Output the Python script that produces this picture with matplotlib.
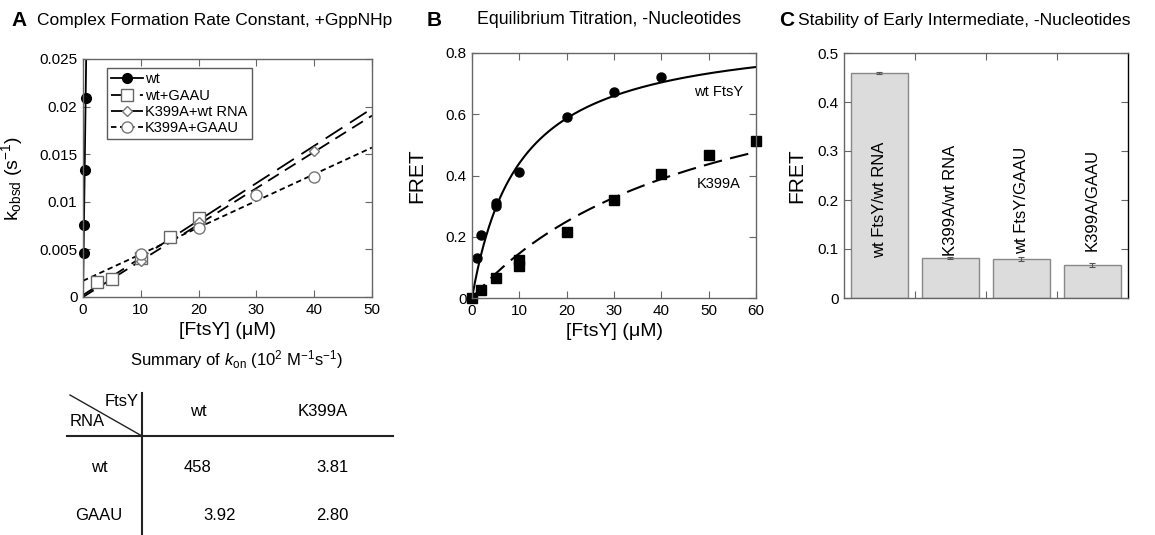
import numpy as np
import matplotlib
matplotlib.use('Agg')
import matplotlib.pyplot as plt
from matplotlib.lines import Line2D

plt.rcParams['font.family'] = ['Liberation Sans', 'DejaVu Sans']
plt.rcParams['mathtext.fontset'] = 'custom'
plt.rcParams['mathtext.rm'] = 'Liberation Sans'
plt.rcParams['mathtext.it'] = 'Liberation Sans:italic'
plt.rcParams['mathtext.bf'] = 'Liberation Sans:bold'

# ---- panel A data: kobsd vs [FtsY] (uM) ----
wt_x = [0.1, 0.166, 0.29, 0.456]
wt_y = [0.0046, 0.0076, 0.0133, 0.0209]
wtG_x = [2.5, 5, 10, 15, 20]
wtG_y = [0.0016, 0.0019, 0.0041, 0.0063, 0.0083]
kw_x = [10, 20, 40]
kw_y = [0.0038, 0.0079, 0.0153]
kG_x = [10, 20, 30, 40]
kG_y = [0.0045, 0.0072, 0.0107, 0.0126]
# linear fits: slope (uM^-1 s^-1), intercept (s^-1)
fit_wt = (0.0458, 0.0)
fit_wtG = (0.000392, 0.0002)
fit_kw = (0.000381, 0.0)
fit_kG = (0.000280, 0.0017)

# summary table (10^2 M^-1 s^-1)
tbl_cols = ['wt', 'K399A']
tbl_rows = ['wt', 'GAAU']
tbl_vals = [['458', '3.81'], ['3.92', '2.80']]

# ---- panel B data: FRET titration ----
bw_x = [0, 1, 2, 5, 5, 10, 20, 30, 40]
bw_y = [0, 0.13, 0.205, 0.30, 0.31, 0.413, 0.59, 0.672, 0.722]
bk_x = [0, 2, 5, 10, 10, 20, 30, 40, 50, 60]
bk_y = [0, 0.025, 0.065, 0.105, 0.125, 0.215, 0.32, 0.405, 0.468, 0.512]
# hyperbolic fits: Fmax, Kd (uM)
hyp_wt = (0.88, 10.0)
hyp_k = (0.874, 50.0)

# ---- panel C data ----
c_labels = ['wt FtsY/wt RNA', 'K399A/wt RNA', 'wt FtsY/GAAU', 'K399A/GAAU']
c_vals = [0.460, 0.082, 0.079, 0.067]
c_errs = [0.002, 0.002, 0.004, 0.004]

W, H = 1155, 535
fig = plt.figure(figsize=(W / 100, H / 100), dpi=100)


def px_axes(l, t, r, b):
    return fig.add_axes([l / W, (H - b) / H, (r - l) / W, (b - t) / H])


def style(ax):
    for s in ax.spines.values():
        s.set_color('#666666')
        s.set_linewidth(1.0)
    ax.tick_params(direction='in', top=True, right=True, length=5,
                   color='#666666', labelsize=11, pad=4)


MU = '\u03bc'

# ---------------- panel A ----------------
axA = px_axes(83, 59, 372, 297)
style(axA)
xx = np.linspace(0, 50, 200)
xw = np.linspace(0, 0.6, 20)
axA.plot(xw, fit_wt[0] * xw + fit_wt[1], color='black', lw=1.3)
axA.plot(xx, fit_wtG[0] * xx + fit_wtG[1], color='black', lw=1.3, dashes=(11, 5))
axA.plot(xx, fit_kw[0] * xx + fit_kw[1], color='black', lw=1.3, dashes=(7, 4))
axA.plot(xx, fit_kG[0] * xx + fit_kG[1], color='black', lw=1.3, dashes=(3, 2))
axA.plot(wt_x, wt_y, 'o', color='black', ms=7, clip_on=False)
axA.plot(wtG_x, wtG_y, 's', mfc='white', mec='#666666', ms=8)
axA.plot(kw_x, kw_y, 'D', mfc='white', mec='#777777', ms=5)
axA.plot(kG_x, kG_y, 'o', mfc='white', mec='#777777', ms=8)
axA.set_xlim(0, 50)
axA.set_ylim(0, 0.025)
axA.set_xticks([0, 10, 20, 30, 40, 50])
axA.set_yticks([0, 0.005, 0.01, 0.015, 0.02, 0.025])
axA.set_yticklabels(['0', '0.005', '0.01', '0.015', '0.02', '0.025'])
axA.set_xlabel('[FtsY] (' + MU + 'M)', fontsize=14, labelpad=4)
axA.set_ylabel('k$_{\\mathrm{obsd}}$ (s$^{-1}$)', fontsize=14)
axA.yaxis.set_label_coords(-0.2, 0.5)
handles = [
    Line2D([], [], color='black', lw=1.3, marker='o', ms=7),
    Line2D([], [], color='black', lw=1.3, dashes=(11, 5), marker='s', mfc='white', mec='#666666', ms=8),
    Line2D([], [], color='black', lw=1.3, dashes=(7, 4), marker='D', mfc='white', mec='#777777', ms=5),
    Line2D([], [], color='black', lw=1.3, dashes=(3, 2), marker='o', mfc='white', mec='#777777', ms=8),
]
leg = axA.legend(handles, ['wt', 'wt+GAAU', 'K399A+wt RNA', 'K399A+GAAU'],
                 loc='upper left', bbox_to_anchor=(0.083, 0.962), fontsize=10.5,
                 frameon=True, fancybox=False, handlelength=2.2, handletextpad=0.1,
                 borderpad=0.3, labelspacing=0.15, borderaxespad=0)
leg.get_frame().set_edgecolor('#333333')
leg.get_frame().set_linewidth(1.0)

# ---------------- panel B ----------------
axB = px_axes(472, 53, 756, 298)
style(axB)
xb = np.linspace(0, 60, 300)
axB.plot(xb, hyp_wt[0] * xb / (hyp_wt[1] + xb), color='black', lw=1.5)
axB.plot(xb, hyp_k[0] * xb / (hyp_k[1] + xb), color='black', lw=1.5, dashes=(9, 4))
axB.plot(bw_x, bw_y, 'o', color='black', ms=6.5, clip_on=False)
axB.plot(bk_x, bk_y, 's', color='black', ms=6.5, clip_on=False)
axB.text(47, 0.672, 'wt FtsY', fontsize=10.5, va='center')
axB.text(47.5, 0.373, 'K399A', fontsize=10.5, va='center')
axB.set_xlim(0, 60)
axB.set_ylim(0, 0.8)
axB.set_xticks(range(0, 61, 10))
axB.set_yticks([0, 0.2, 0.4, 0.6, 0.8])
axB.set_yticklabels(['0', '0.2', '0.4', '0.6', '0.8'])
axB.set_xlabel('[FtsY] (' + MU + 'M)', fontsize=14, labelpad=4)
axB.set_ylabel('FRET', fontsize=15, labelpad=14)

# ---------------- panel C ----------------
axC = px_axes(844, 53, 1128, 298)
style(axC)
xc = np.arange(len(c_vals))
axC.bar(xc, c_vals, width=0.8, color='#dcdcdc', edgecolor='#888888', lw=1.0,
        yerr=c_errs, error_kw=dict(ecolor='#555555', elinewidth=0.8, capsize=2, capthick=0.8))
for i, lab in enumerate(c_labels):
    axC.text(xc[i], 0.2, lab, rotation=90, ha='center', va='center', fontsize=12)
axC.set_xlim(-0.5, 3.5)
axC.set_ylim(0, 0.5)
axC.set_xticks([0.5, 1.5, 2.5])
axC.set_xticklabels([])
axC.set_yticks([0, 0.1, 0.2, 0.3, 0.4, 0.5])
axC.set_yticklabels(['0', '0.1', '0.2', '0.3', '0.4', '0.5'])
axC.set_ylabel('FRET', fontsize=15, labelpad=8)
axC.spines['right'].set_color('black')

# ---------------- panel titles ----------------
fig.text(11 / W, 1 - 20 / H, 'A', fontsize=15, fontweight='bold', va='center')
fig.text(37 / W, 1 - 20 / H, 'Complex Formation Rate Constant, +GppNHp', fontsize=12.5, va='center')
fig.text(427 / W, 1 - 20 / H, 'B', fontsize=15, fontweight='bold', va='center')
fig.text(477 / W, 1 - 20 / H, 'Equilibrium Titration, -Nucleotides', fontsize=12.8, va='center')
fig.text(779 / W, 1 - 20 / H, 'C', fontsize=15, fontweight='bold', va='center')
fig.text(798 / W, 1 - 20 / H, 'Stability of Early Intermediate, -Nucleotides', fontsize=12.5, va='center')

# ---------------- summary table ----------------
axT = fig.add_axes([0, 0, 1, 1])
axT.set_xlim(0, W)
axT.set_ylim(H, 0)
axT.axis('off')
axT.text(236, 360, 'Summary of $k_{\\mathrm{on}}$ (10$^{2}$ M$^{-1}$s$^{-1}$)', fontsize=12,
         ha='center', va='center')
axT.plot([67, 393], [436, 436], color='#222222', lw=1.5)
axT.plot([142, 142], [393, 534], color='#222222', lw=1.5)
axT.plot([70, 142], [395, 436], color='#222222', lw=1.0)
axT.text(139, 402, 'FtsY', fontsize=12, ha='right', va='center')
axT.text(70, 421, 'RNA', fontsize=12, ha='left', va='center')
col_x = [198, 323]
axT.text(col_x[0], 411, tbl_cols[0], fontsize=12, ha='center', va='center')
axT.text(col_x[1], 411, tbl_cols[1], fontsize=12, ha='center', va='center')
row_y = [467, 515]
val_x = [[198, 332], [220, 332]]
for r in range(2):
    axT.text(99, row_y[r], tbl_rows[r], fontsize=12, ha='center', va='center')
    for c in range(2):
        axT.text(val_x[r][c], row_y[r], tbl_vals[r][c], fontsize=12, ha='center', va='center')

fig.savefig('out.png', dpi=100)
